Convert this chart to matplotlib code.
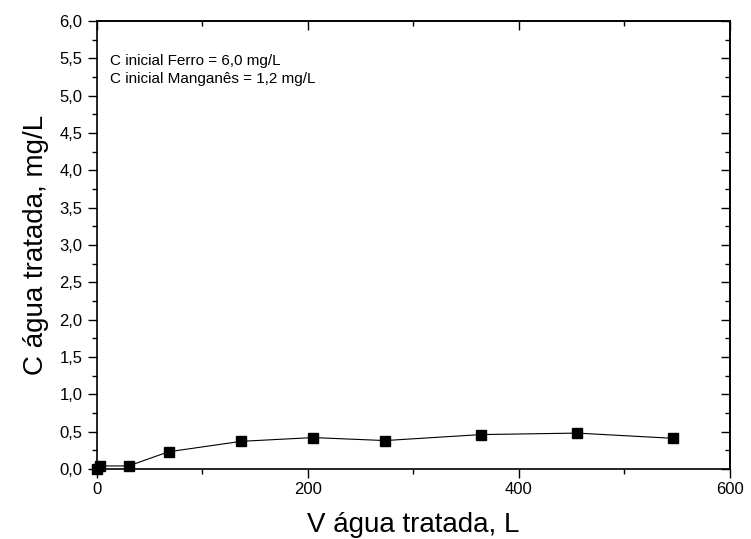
import matplotlib
matplotlib.use("Agg")
import matplotlib.pyplot as plt
from matplotlib.ticker import MultipleLocator, FuncFormatter

volume = [0, 3, 30, 68, 137, 205, 273, 364, 455, 546]
conc = [0.0, 0.04, 0.04, 0.23, 0.37, 0.42, 0.38, 0.46, 0.48, 0.41]
notes = ["C inicial Ferro = 6,0 mg/L", "C inicial Manganês = 1,2 mg/L"]

plt.rcParams['font.family'] = ['Liberation Sans', 'DejaVu Sans']

fig = plt.figure(figsize=(7.51, 5.39), dpi=100)
ax = fig.add_axes([0.129, 0.130, 0.843, 0.831])

ax.plot(volume, conc, color='black', lw=0.8, marker='s', markersize=6.5,
        markerfacecolor='black', markeredgecolor='black', clip_on=False, zorder=3)

ax.set_xlim(0, 600)
ax.set_ylim(0, 6.0)
ax.xaxis.set_major_locator(MultipleLocator(200))
ax.xaxis.set_minor_locator(MultipleLocator(100))
ax.yaxis.set_major_locator(MultipleLocator(0.5))
ax.yaxis.set_minor_locator(MultipleLocator(0.25))
ax.yaxis.set_major_formatter(FuncFormatter(lambda v, p: f"{v:.1f}".replace('.', ',')))
ax.xaxis.set_major_formatter(FuncFormatter(lambda v, p: f"{v:.0f}"))

ax.tick_params(axis='both', which='major', direction='out', length=6.5, width=1,
               labelsize=12, pad=3, top=False, right=False)
ax.tick_params(axis='y', which='major', pad=4)
ax.tick_params(axis='both', which='minor', direction='out', length=3.5, width=1)

# mirrored inward ticks on top and right
axt = ax.secondary_xaxis('top')
axt.xaxis.set_major_locator(MultipleLocator(200))
axt.xaxis.set_minor_locator(MultipleLocator(100))
axt.tick_params(which='major', direction='in', length=6.5, width=1, labeltop=False)
axt.tick_params(which='minor', direction='in', length=3.5, width=1)
axr = ax.secondary_yaxis('right')
axr.yaxis.set_major_locator(MultipleLocator(0.5))
axr.yaxis.set_minor_locator(MultipleLocator(0.25))
axr.tick_params(which='major', direction='in', length=6.5, width=1, labelright=False)
axr.tick_params(which='minor', direction='in', length=3.5, width=1)

for s in ax.spines.values():
    s.set_linewidth(1.2)
for s in axt.spines.values():
    s.set_linewidth(1.2)
for s in axr.spines.values():
    s.set_linewidth(1.2)

ax.set_xlabel("V água tratada, L", fontsize=20, labelpad=11)
ax.set_ylabel("C água tratada, mg/L", fontsize=20, labelpad=7)

ax.text(12, 5.46, notes[0], fontsize=11, va='center', ha='left')
ax.text(12, 5.22, notes[1], fontsize=11, va='center', ha='left')

fig.savefig("out.png", dpi=100)
